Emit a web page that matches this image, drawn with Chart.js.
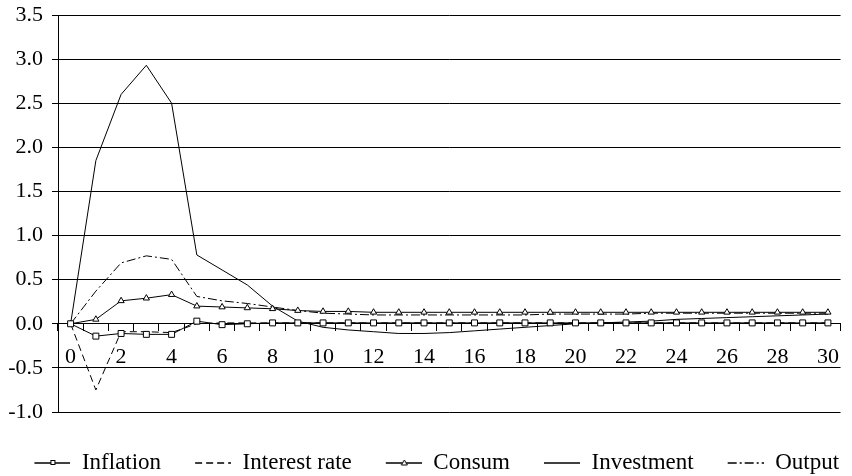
<!DOCTYPE html>
<html>
<head>
<meta charset="utf-8">
<script src="https://cdn.jsdelivr.net/npm/chart.js@4/dist/chart.umd.min.js"></script>
<style>
  html, body { margin: 0; padding: 0; background: #fff; }
  canvas { display: block; }
</style>
</head>
<body>
<canvas id="chart" width="852" height="476"></canvas>
<script>
// Periods after the shock
const periods = ['0','1','2','3','4','5','6','7','8','9','10','11','12','13','14','15',
                 '16','17','18','19','20','21','22','23','24','25','26','27','28','29','30'];

// Impulse responses (percent deviation)
const inflation = [0, -0.14, -0.11, -0.12, -0.12, 0.03, -0.01, 0.00, 0.01, 0.01, 0.01,
                   0.01, 0.01, 0.01, 0.01, 0.01, 0.01, 0.01, 0.01, 0.01, 0.01,
                   0.01, 0.01, 0.01, 0.01, 0.01, 0.01, 0.01, 0.01, 0.01, 0.01];
const interestRate = [0, -0.75, -0.09, -0.09, -0.10, 0.00, 0.01, 0.01, 0.01, 0.01, 0.01,
                      0.01, 0.01, 0.01, 0.01, 0.01, 0.01, 0.01, 0.01, 0.01, 0.01,
                      0.01, 0.01, 0.01, 0.01, 0.01, 0.01, 0.01, 0.01, 0.01, 0.01];
const consum = [0, 0.05, 0.26, 0.29, 0.33, 0.20, 0.19, 0.18, 0.17, 0.15, 0.14,
                0.14, 0.13, 0.13, 0.13, 0.13, 0.13, 0.13, 0.13, 0.13, 0.13,
                0.13, 0.13, 0.13, 0.13, 0.13, 0.13, 0.13, 0.13, 0.13, 0.13];
const investment = [0, 1.85, 2.60, 2.93, 2.50, 0.78, 0.61, 0.44, 0.20, 0.03, -0.04,
                    -0.07, -0.09, -0.11, -0.11, -0.10, -0.08, -0.06, -0.04, -0.02, 0.00,
                    0.01, 0.02, 0.03, 0.05, 0.06, 0.07, 0.08, 0.09, 0.10, 0.11];
const output = [0, 0.37, 0.69, 0.77, 0.73, 0.31, 0.26, 0.23, 0.19, 0.15, 0.12,
                0.11, 0.10, 0.10, 0.10, 0.10, 0.10, 0.10, 0.10, 0.11, 0.11,
                0.11, 0.11, 0.12, 0.12, 0.12, 0.12, 0.12, 0.12, 0.12, 0.12];

// Value axis ticks
const yMin = -1.0, yMax = 3.5, yStep = 0.5;

const FONT = "'Liberation Serif', 'Times New Roman', serif";
const INK = '#000';

// Small line-and-marker swatch used as the legend symbol
function legendSample(ds) {
  const c = document.createElement('canvas');
  c.width = 60; c.height = 12;
  const g = c.getContext('2d');
  g.strokeStyle = INK;
  g.lineWidth = 1.5;
  g.setLineDash(ds.borderDash || []);
  g.beginPath();
  g.moveTo(24, 6);
  g.lineTo(60, 6);
  g.stroke();
  g.setLineDash([]);
  g.lineWidth = 1;
  g.fillStyle = '#fff';
  if (ds.pointStyle === 'rect') {
    g.fillRect(40, 4, 5, 5);
    g.strokeRect(40.5, 3.5, 4, 4);
  } else if (ds.pointStyle === 'triangle') {
    g.beginPath();
    g.moveTo(42.5, 3);
    g.lineTo(45.5, 8);
    g.lineTo(39.5, 8);
    g.closePath();
    g.fill();
    g.stroke();
  }
  return c;
}

function series(label, data, extra) {
  return Object.assign({
    label, data,
    borderColor: INK,
    backgroundColor: '#fff',
    borderWidth: 1,
    tension: 0,
    pointRadius: 0,
    pointHoverRadius: 0,
    pointBorderColor: INK,
    pointBackgroundColor: '#fff',
    pointBorderWidth: 1,
    fill: false
  }, extra);
}

const datasets = [
  series('Inflation', inflation, { pointStyle: 'rect', pointRadius: 4.2 }),
  series('Interest rate', interestRate, { borderDash: [7, 4] }),
  series('Consum', consum, { pointStyle: 'triangle', pointRadius: 3.6 }),
  series('Investment', investment, {}),
  series('Output', output, { borderDash: [9, 3, 2, 3] })
];

new Chart(document.getElementById('chart'), {
  type: 'line',
  data: { labels: periods, datasets },
  options: {
    responsive: false,
    animation: false,
    devicePixelRatio: 1,
    layout: { padding: { top: 15, right: 2.5, bottom: 1, left: 0 } },
    plugins: {
      tooltip: { enabled: false },
      legend: {
        position: 'bottom',
        maxHeight: 63,
        // empty title keeps a gap between the plot and the legend row
        title: {
          display: true,
          text: '',
          font: { family: FONT, size: 1, lineHeight: 1 },
          padding: { top: 0, bottom: 28.5 }
        },
        labels: {
          usePointStyle: true,
          pointStyleWidth: 60,
          padding: 10,
          color: INK,
          font: { family: FONT, size: 23 },
          generateLabels(chart) {
            return chart.data.datasets.map((ds, i) => ({
              text: ds.label,
              pointStyle: legendSample(ds),
              fillStyle: INK,
              strokeStyle: INK,
              lineWidth: 0,
              hidden: false,
              datasetIndex: i,
              fontColor: INK
            }));
          }
        }
      }
    },
    scales: {
      x: {
        type: 'category',
        position: { y: 0 },
        offset: true,
        afterFit(scale) { scale.height = 0; },
        grid: {
          display: true,
          offset: true,
          drawOnChartArea: false,
          drawTicks: true,
          tickLength: 7,
          color: INK,
          lineWidth: 1
        },
        border: { display: true, color: INK, width: 1 },
        ticks: {
          autoSkip: false,
          maxRotation: 0,
          padding: 13,
          color: INK,
          font: { family: FONT, size: 22 },
          callback(value, index) { return index % 2 === 0 ? periods[index] : ''; }
        }
      },
      y: {
        min: yMin,
        max: yMax,
        afterFit(scale) {
          scale.width = 58;
          // the top label may overhang the plot; the page padding covers it
          scale.paddingTop = 0;
          scale.paddingBottom = 0;
        },
        grid: {
          color: INK,
          lineWidth: 1,
          drawTicks: true,
          tickLength: 6
        },
        border: { display: true, color: INK, width: 1 },
        ticks: {
          stepSize: yStep,
          padding: 9,
          color: INK,
          font: { family: FONT, size: 22 },
          callback(value) { return Number(value).toFixed(1); }
        }
      }
    }
  }
});
</script>
</body>
</html>
